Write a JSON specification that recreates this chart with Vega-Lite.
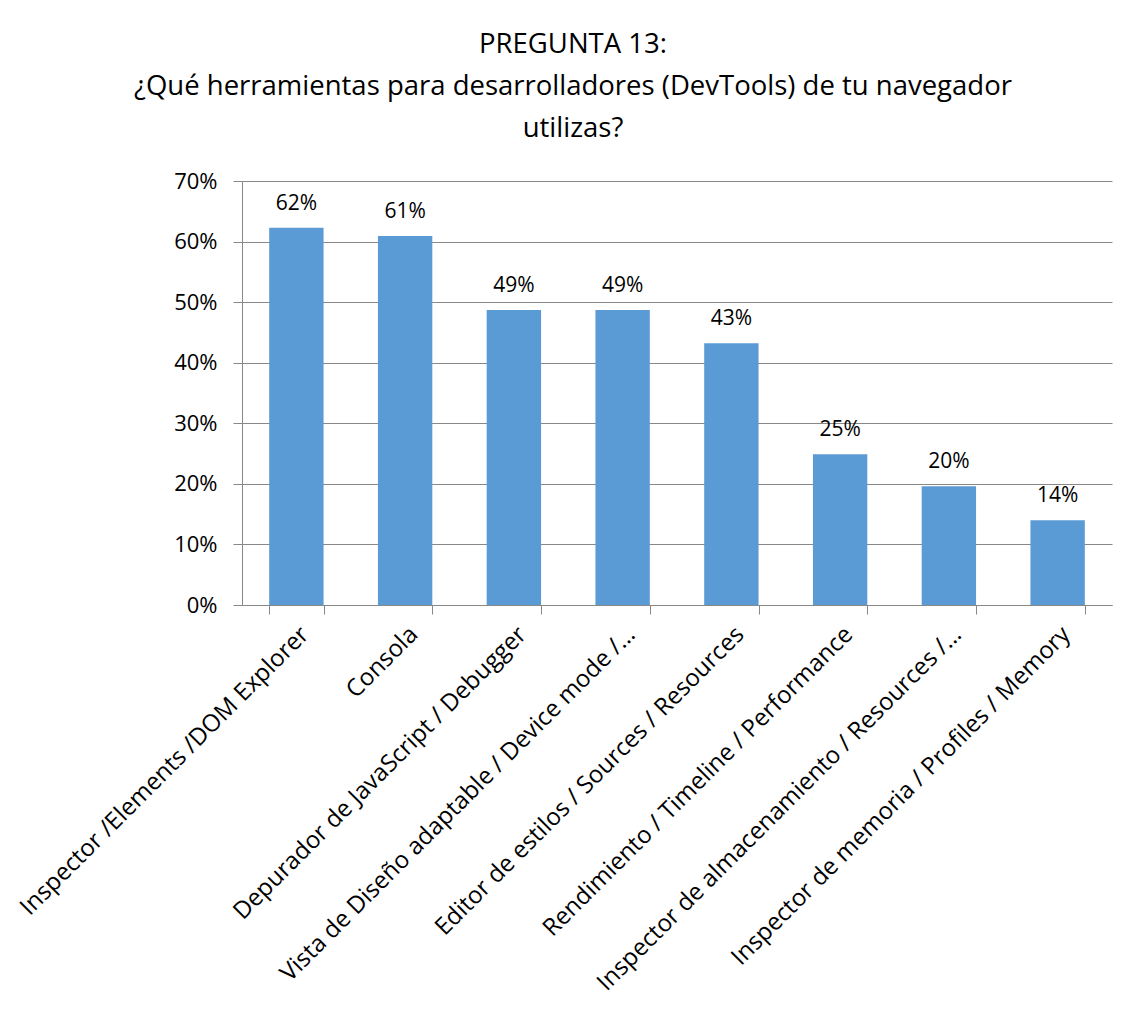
{
  "$schema": "https://vega.github.io/schema/vega-lite/v6.json",
  "autosize": {"type": "none"},
  "width": 870,
  "height": 424,
  "padding": {"left": 242, "top": 181, "right": 19, "bottom": 405},
  "background": "white",
  "config": {
    "font": "Open Sans",
    "view": {"stroke": null}
  },
  "title": {
    "text": ["PREGUNTA 13:", "¿Qué herramientas para desarrolladores (DevTools) de tu navegador", "utilizas?"],
    "anchor": "middle",
    "frame": "group",
    "dx": -104,
    "fontSize": 27.5,
    "fontWeight": "normal",
    "lineHeight": 42,
    "color": "black",
    "offset": 28
  },
  "data": {
    "values": [
      {"herramienta": "Inspector /Elements /DOM Explorer", "valor": 0.623},
      {"herramienta": "Consola", "valor": 0.609},
      {"herramienta": "Depurador de JavaScript / Debugger", "valor": 0.487},
      {"herramienta": "Vista de Diseño adaptable / Device mode /…", "valor": 0.487},
      {"herramienta": "Editor de estilos / Sources / Resources", "valor": 0.432},
      {"herramienta": "Rendimiento / Timeline / Performance", "valor": 0.249},
      {"herramienta": "Inspector de almacenamiento / Resources /…", "valor": 0.196},
      {"herramienta": "Inspector de memoria / Profiles / Memory", "valor": 0.14}
    ]
  },
  "encoding": {
    "x": {
      "field": "herramienta",
      "type": "nominal",
      "sort": null,
      "title": null,
      "scale": {"paddingInner": 0.5, "paddingOuter": 0.25},
      "axis": {
        "labelAngle": -45,
        "labelAlign": "right",
        "labelBaseline": "top",
        "labelFontSize": 24,
        "labelColor": "black",
        "labelPadding": 8,
        "labelLimit": 700,
        "tickBand": "extent",
        "tickSize": 9,
        "tickColor": "#888888",
        "domainColor": "#888888",
        "grid": false
      }
    },
    "y": {
      "field": "valor",
      "type": "quantitative",
      "title": null,
      "scale": {"domain": [0, 0.7], "nice": false},
      "axis": {
        "format": ".0%",
        "values": [0, 0.1, 0.2, 0.3, 0.4, 0.5, 0.6, 0.7],
        "labelFontSize": 22,
        "labelColor": "black",
        "labelPadding": 16,
        "tickSize": 9,
        "tickColor": "#888888",
        "domainColor": "#888888",
        "gridColor": "#888888",
        "grid": true
      }
    }
  },
  "layer": [
    {"mark": {"type": "bar", "color": "#5B9BD5"}},
    {
      "mark": {"type": "text", "baseline": "alphabetic", "dy": -18, "fontSize": 21, "color": "black"},
      "encoding": {"text": {"field": "valor", "type": "quantitative", "format": ".0%"}}
    }
  ]
}
